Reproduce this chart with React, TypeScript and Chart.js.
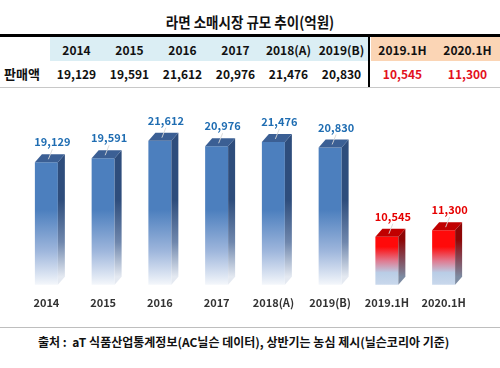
import React, { useEffect, useRef } from 'react';
import { Chart, registerables } from 'chart.js';

Chart.register(...registerables);

const TITLE = '라면 소매시장 규모 추이(억원)';
const ROW_LABEL = '판매액';
const SOURCE = '출처 :  aT 식품산업통계정보(AC닐슨 데이터), 상반기는 농심 제시(닐슨코리아 기준)';

const categories = ['2014', '2015', '2016', '2017', '2018(A)', '2019(B)', '2019.1H', '2020.1H'];
const sales = [19129, 19591, 21612, 20976, 21476, 20830, 10545, 11300];
const halfYear = [false, false, false, false, false, false, true, true];
const yMin = 5000;
const yMax = 24000;

const FONT = '"Noto Sans CJK KR", "Noto Sans", sans-serif';
const fmt = (v: number) => v.toLocaleString('en-US');

const DX = 7;
const DY = 8;

const bar3d = {
  id: 'bar3d',
  afterDatasetsDraw(chart: any) {
    const ctx = chart.ctx as CanvasRenderingContext2D;
    const meta = chart.getDatasetMeta(0);
    const bottom = chart.chartArea.bottom;
    meta.data.forEach((el: any, i: number) => {
      const { x, y, width } = el.getProps(['x', 'y', 'width'], true);
      const base = bottom;
      const l = x - width / 2;
      const r = x + width / 2;
      const red = halfYear[i];
      ctx.save();
      // side face
      let g: CanvasGradient;
      if (red) {
        g = ctx.createLinearGradient(0, base - 45, 0, base - DY);
        g.addColorStop(0, '#8E0606');
        g.addColorStop(0.45, '#85404E');
        g.addColorStop(1, '#7C8BA2');
      } else {
        g = ctx.createLinearGradient(0, base - 85, 0, base - DY);
        g.addColorStop(0, '#2E4D7C');
        g.addColorStop(0.55, '#6F87AD');
        g.addColorStop(1, '#E4E9F1');
      }
      ctx.fillStyle = g;
      ctx.beginPath();
      ctx.moveTo(r, y);
      ctx.lineTo(r + DX, y - DY);
      ctx.lineTo(r + DX, base - DY);
      ctx.lineTo(r, base);
      ctx.closePath();
      ctx.fill();
      // top face
      ctx.fillStyle = red ? '#C00000' : '#3B5F94';
      ctx.beginPath();
      ctx.moveTo(l, y);
      ctx.lineTo(l + DX, y - DY);
      ctx.lineTo(r + DX, y - DY);
      ctx.lineTo(r, y);
      ctx.closePath();
      ctx.fill();
      // leader line
      ctx.strokeStyle = 'rgba(215,215,215,0.9)';
      ctx.lineWidth = 1;
      ctx.beginPath();
      ctx.moveTo(x + 2, y - 3);
      ctx.lineTo(x + 6, y - 13);
      ctx.stroke();
      // value label
      ctx.fillStyle = red ? '#E60000' : '#1F6DB2';
      ctx.font = `bold 11px ${FONT}`;
      ctx.textAlign = 'center';
      ctx.textBaseline = 'middle';
      ctx.fillText(fmt(sales[i]), x + 6, y - 20);
      ctx.restore();
    });
  },
};

export default function App() {
  const ref = useRef<HTMLCanvasElement>(null);

  useEffect(() => {
    if (!ref.current) return;
    const chart = new Chart(ref.current, {
      type: 'bar',
      data: {
        labels: categories,
        datasets: [
          {
            data: sales,
            borderWidth: 0,
            barPercentage: 0.405,
            categoryPercentage: 1,
            backgroundColor: (c: any) => {
              const ch = c.chart;
              const area = ch.chartArea;
              if (!area) return '#4C7FBE';
              const ctx = ch.ctx as CanvasRenderingContext2D;
              const b = area.bottom;
              if (halfYear[c.dataIndex]) {
                const g = ctx.createLinearGradient(0, b - 38, 0, b);
                g.addColorStop(0, '#FF0A0A');
                g.addColorStop(0.37, '#E07A90');
                g.addColorStop(0.68, '#B9CDE6');
                g.addColorStop(1, '#C9D8EC');
                return g;
              }
              const g = ctx.createLinearGradient(0, b - 75, 0, b);
              g.addColorStop(0, '#4C7FBE');
              g.addColorStop(0.55, '#9EB6DC');
              g.addColorStop(1, '#F4F7FB');
              return g;
            },
          },
        ],
      },
      options: {
        responsive: false,
        devicePixelRatio: 1,
        animation: false,
        layout: { padding: { top: 30, left: 18, right: 28, bottom: 0 } },
        plugins: { legend: { display: false }, tooltip: { enabled: false } },
        scales: {
          x: {
            grid: { display: false, drawTicks: false },
            border: { display: false },
            ticks: { color: '#333333', padding: 11, font: { family: FONT, size: 11, weight: 'bold' } },
          },
          y: { display: false, min: yMin, max: yMax },
        },
      },
      plugins: [bar3d],
    });
    return () => chart.destroy();
  }, []);

  const annualLeft = 50;
  const annualW = 53;
  const halfLeft = 370;
  const halfW = 65;
  const colCenter = (i: number) =>
    halfYear[i] ? halfLeft + halfW * (i - 6) + halfW / 2 : annualLeft + annualW * i + annualW / 2;

  const cell = (text: string, cx: number, top: number, color: string) => (
    <div
      key={text + top}
      style={{
        position: 'absolute',
        left: cx - 35,
        width: 70,
        top,
        height: 24,
        lineHeight: '24px',
        textAlign: 'center',
        fontWeight: 'bold',
        fontSize: 12,
        color,
        whiteSpace: 'nowrap',
      }}
    >
      {text}
    </div>
  );

  return (
    <div
      style={{
        position: 'absolute',
        left: 0,
        top: 0,
        width: 500,
        height: 368,
        background: '#FFFFFF',
        fontFamily: FONT,
        overflow: 'hidden',
      }}
    >
      <div
        style={{
          position: 'absolute',
          left: 0,
          width: 500,
          top: 10,
          height: 24,
          lineHeight: '24px',
          textAlign: 'center',
          fontWeight: 'bold',
          fontSize: 15,
          color: '#111',
          transform: 'scaleX(0.9)',
        }}
      >
        {TITLE}
      </div>
      <div style={{ position: 'absolute', left: 0, top: 34, width: 500, height: 3, background: '#000' }} />
      <div style={{ position: 'absolute', left: 50, top: 37, width: 318, height: 24, background: '#DBEEF4' }} />
      <div style={{ position: 'absolute', left: 371, top: 37, width: 129, height: 24, background: '#FBD5B5' }} />
      <div style={{ position: 'absolute', left: 368, top: 37, width: 2, height: 51, background: '#000' }} />
      <div style={{ position: 'absolute', left: 0, top: 87, width: 500, height: 1, background: '#C8C8C8' }} />
      {categories.map((c, i) => cell(c, colCenter(i), 38, '#111'))}
      {sales.map((v, i) => cell(fmt(v), colCenter(i), 62, halfYear[i] ? '#E3101E' : '#111'))}
      <div
        style={{
          position: 'absolute',
          left: 4,
          top: 62,
          height: 24,
          lineHeight: '24px',
          fontWeight: 'bold',
          fontSize: 13,
          color: '#111',
        }}
      >
        {ROW_LABEL}
      </div>
      <canvas ref={ref} width={500} height={230} style={{ position: 'absolute', left: 0, top: 90 }} />
      <div style={{ position: 'absolute', left: 0, top: 327, width: 500, height: 1, background: '#BEBEBE' }} />
      <div
        style={{
          position: 'absolute',
          left: 38,
          top: 332,
          height: 20,
          lineHeight: '20px',
          fontWeight: 'bold',
          fontSize: 12,
          color: '#111',
          whiteSpace: 'pre',
        }}
      >
        {SOURCE}
      </div>
    </div>
  );
}
